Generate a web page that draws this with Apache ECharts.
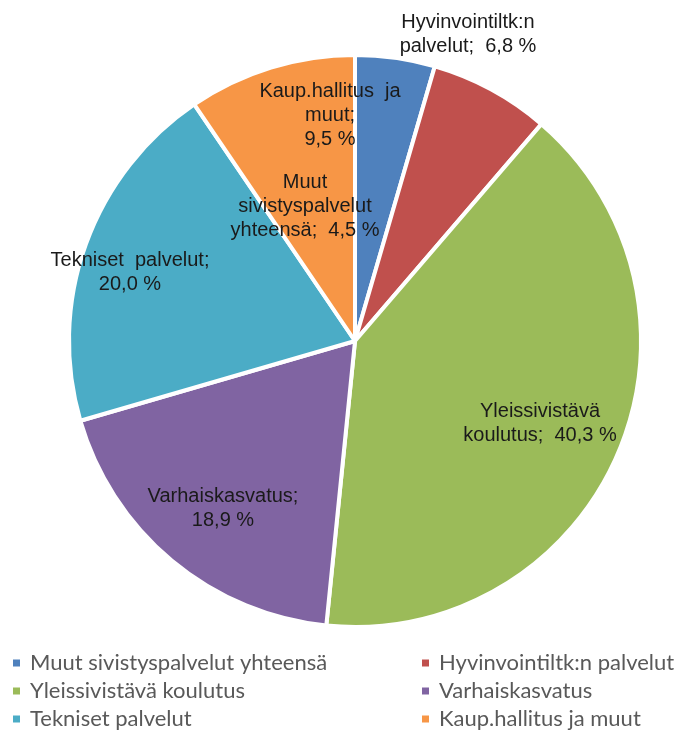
<!DOCTYPE html>
<html>
<head>
<meta charset="utf-8">
<script src="https://cdn.jsdelivr.net/npm/echarts@6/dist/echarts.min.js"></script>
<style>
  html, body { margin: 0; padding: 0; background: #fff; }
  #main { width: 692px; height: 735px; }
</style>
</head>
<body>
<div id="main"></div>
<script>
// data
const categories = [
  'Muut sivistyspalvelut yhteensä',
  'Hyvinvointiltk:n palvelut',
  'Yleissivistävä koulutus',
  'Varhaiskasvatus',
  'Tekniset palvelut',
  'Kaup.hallitus ja muut'
]
const shares = [4.5, 6.8, 40.3, 18.9, 20.0, 9.5]
const colors = ['#4F81BD', '#C0504D', '#9BBB59', '#8064A2', '#4BACC6', '#F79646']

// how the slice labels wrap (as in the original)
const labelNames = [
  'Muut\nsivistyspalvelut\nyhteensä',
  'Hyvinvointiltk:n\npalvelut',
  'Yleissivistävä\nkoulutus',
  'Varhaiskasvatus',
  'Tekniset  palvelut',
  'Kaup.hallitus  ja\nmuut'
]
const labelSeps = [';  ', ';  ', ';  ', ';\n', ';\n', ';\n']
// label centres
const labelPos = [[305, 206], [468, 34], [540, 423], [223, 508], [130, 272], [330, 115]]

const chart = echarts.init(document.getElementById('main'))

const legendText = { fontFamily: 'Lato', fontSize: 22, lineHeight: 22, color: '#595959', padding: [0, 0, 0, 4] }

const option = {
  animation: false,
  color: colors,
  legend: [
    {
      orient: 'vertical',
      left: 11,
      top: 652,
      padding: 0,
      icon: 'rect',
      itemWidth: 9,
      itemHeight: 9,
      itemGap: 6,
      data: [categories[0], categories[2], categories[4]],
      textStyle: legendText
    },
    {
      orient: 'vertical',
      left: 420,
      top: 652,
      padding: 0,
      icon: 'rect',
      itemWidth: 9,
      itemHeight: 9,
      itemGap: 6,
      data: [categories[1], categories[3], categories[5]],
      textStyle: legendText
    }
  ],
  series: [
    {
      type: 'pie',
      center: [355, 341],
      radius: [0, 286],
      startAngle: 90,
      clockwise: true,
      avoidLabelOverlap: false,
      itemStyle: { borderColor: '#fff', borderWidth: 4 },
      label: {
        show: true,
        position: 'inside',
        fontFamily: 'Arial',
        fontSize: 20,
        lineHeight: 24,
        color: '#1a1a1a',
        align: 'center',
        formatter: (p) => labelNames[p.dataIndex] + labelSeps[p.dataIndex] + p.value.toFixed(1).replace('.', ',') + ' %'
      },
      labelLine: { show: false },
      labelLayout: (p) => ({
        x: labelPos[p.dataIndex][0],
        y: labelPos[p.dataIndex][1],
        align: 'center',
        verticalAlign: 'middle'
      }),
      emphasis: { disabled: true },
      data: categories.map((name, i) => ({ name: name, value: shares[i] }))
    }
  ]
}

chart.setOption(option)
</script>
</body>
</html>
